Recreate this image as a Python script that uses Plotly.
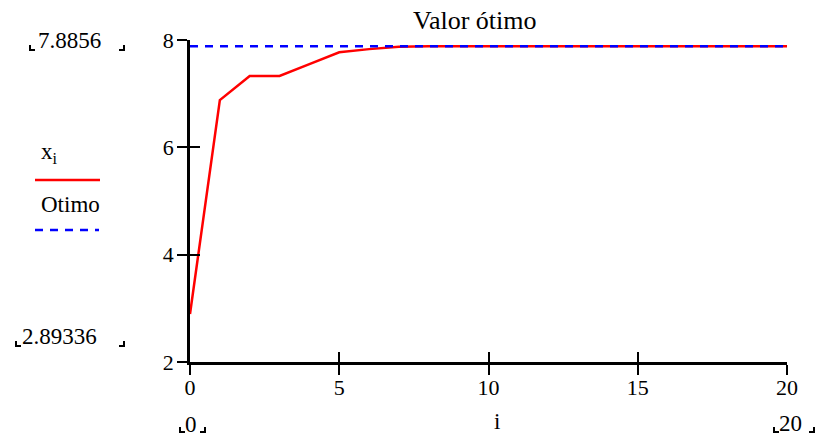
import plotly.graph_objects as go

i_vals = list(range(21))
x_vals = [2.89336, 6.88, 7.33, 7.33, 7.55, 7.77, 7.83, 7.875,
          7.8856, 7.8856, 7.8856, 7.8856, 7.8856, 7.8856, 7.8856,
          7.8856, 7.8856, 7.8856, 7.8856, 7.8856, 7.8856]
otimo = 7.8856
otimo_vals = [otimo] * len(i_vals)
x_ticks = [0, 5, 10, 15, 20]
y_ticks = [2, 4, 6, 8]
title_text = "Valor ótimo"

W, H = 817, 441
L, R, T, B = 190, 30, 40, 79
FONT = "Liberation Serif, Times New Roman, serif"
FS = 22
FA = 23

def px(xp):
    return (xp - L) / (W - L - R)

def py(yp):
    return (H - B - yp) / (H - T - B)

fig = go.Figure()
fig.add_trace(go.Scatter(x=i_vals, y=x_vals, mode="lines",
                         line=dict(color="#ff0000", width=2.5),
                         showlegend=False, hoverinfo="skip"))
fig.add_trace(go.Scatter(x=i_vals, y=otimo_vals, mode="lines",
                         xaxis="x2", yaxis="y2",
                         line=dict(color="#0000ff", width=2.5, dash="8px,7px"),
                         showlegend=False, hoverinfo="skip"))

axis_common = dict(showgrid=False, zeroline=False, ticklen=10, tickwidth=2,
                   tickcolor="black", tickfont=dict(family=FONT, size=FS, color="black"))

fig.update_layout(
    width=W, height=H,
    margin=dict(l=L, r=R, t=T, b=B),
    paper_bgcolor="white", plot_bgcolor="white",
    font=dict(family=FONT, size=FS, color="black"),
    xaxis=dict(range=[0, 20], tickvals=x_ticks, ticks="outside", showline=True,
               linecolor="black", linewidth=2.5, ticklabelstandoff=-6, **axis_common),
    yaxis=dict(range=[2, 8], tickvals=y_ticks, ticks="outside", showline=True,
               linecolor="black", linewidth=2.5, ticklabelstandoff=-1, **axis_common),
    xaxis2=dict(range=[0, 20], tickvals=x_ticks, ticks="inside", overlaying="x",
                anchor="y2", side="bottom", showticklabels=False, showline=False,
                **axis_common),
    yaxis2=dict(range=[2, 8], tickvals=y_ticks, ticks="inside", overlaying="y",
                anchor="x2", side="left", showticklabels=False, showline=False,
                **axis_common),
)

annots = []
def text(xp, yp, s, xanchor="center", size=FA):
    annots.append(dict(x=px(xp), y=py(yp), xref="paper", yref="paper", text=s,
                       showarrow=False, xanchor=xanchor, yanchor="middle",
                       font=dict(family=FONT, size=size, color="black")))

text(475, 20, title_text, size=26)
text(36, 40, "7.8856", "left")
text(20, 336, "2.89336", "left")
text(191, 424, "0")
text(497, 421, "i")
text(790, 423, "20")
text(39, 153, "x<sub>i</sub>", "left")
text(39, 204, "Otimo", "left")
fig.update_layout(annotations=annots)

shapes = []
def bracket(xp, yp, side):
    h, w = 5, 5
    if side == "l":
        path = f"M {px(xp)},{py(yp-h)} L {px(xp)},{py(yp)} L {px(xp+w)},{py(yp)}"
    else:
        path = f"M {px(xp)},{py(yp-h)} L {px(xp)},{py(yp)} L {px(xp-w)},{py(yp)}"
    shapes.append(dict(type="path", path=path, xref="paper", yref="paper",
                       line=dict(color="black", width=2)))

bracket(30, 50, "l"); bracket(124, 50, "r")
bracket(16, 346, "l"); bracket(124, 346, "r")
bracket(180, 432, "l"); bracket(205, 432, "r")
bracket(774, 432, "l"); bracket(814, 432, "r")

shapes.append(dict(type="line", xref="paper", yref="paper", x0=px(35), x1=px(100),
                   y0=py(180), y1=py(180), line=dict(color="#ff0000", width=2.5)))
shapes.append(dict(type="line", xref="paper", yref="paper", x0=px(35), x1=px(99),
                   y0=py(230), y1=py(230), line=dict(color="#0000ff", width=2.5, dash="8px,7px")))
fig.update_layout(shapes=shapes)

fig.write_html("out.html", config={"displayModeBar": False},
               post_script="document.body.style.margin='0';")
